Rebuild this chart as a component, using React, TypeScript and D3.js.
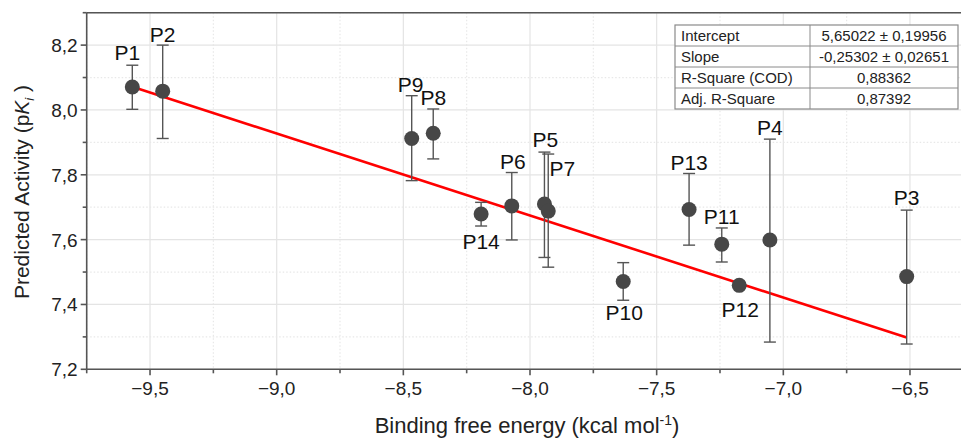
import React, { useEffect, useRef } from "react";
import * as d3 from "d3";

// ---- Data ----
const labels = ["P1", "P2", "P3", "P4", "P5", "P6", "P7", "P8", "P9", "P10", "P11", "P12", "P13", "P14"];
const bindingEnergy = [-9.57, -9.45, -6.513, -7.053, -7.943, -8.072, -7.928, -8.382, -8.467, -7.632, -7.243, -7.174, -7.372, -8.193];
const predicted = [8.071, 8.058, 7.486, 7.599, 7.71, 7.704, 7.688, 7.928, 7.912, 7.471, 7.586, 7.459, 7.693, 7.679];
const errLow = [8.002, 7.912, 7.278, 7.284, 7.545, 7.599, 7.515, 7.849, 7.782, 7.413, 7.531, 7.452, 7.583, 7.642];
const errHigh = [8.138, 8.2, 7.691, 7.91, 7.87, 7.807, 7.864, 8.003, 8.044, 7.529, 7.636, 7.466, 7.804, 7.715];

const fitIntercept = 5.65022;
const fitSlope = -0.25302;

const tableRows = ["Intercept", "Slope", "R-Square (COD)", "Adj. R-Square"];
const tableValues = ["5,65022 ± 0,19956", "-0,25302 ± 0,02651", "0,88362", "0,87392"];

const xTicks = [-9.5, -9.0, -8.5, -8.0, -7.5, -7.0, -6.5];
const yTicks = [7.2, 7.4, 7.6, 7.8, 8.0, 8.2];

// label placement (pixel offsets from point centre)
const labelOffset: Record<string, [number, number]> = {
  P1: [-5, -34], P2: [0, -57], P3: [0, -79], P4: [0, -112], P5: [1, -64], P6: [1, -44],
  P7: [14, -43], P8: [0, -36], P9: [-1, -54], P10: [1, 31], P11: [0, -28], P12: [1, 24],
  P13: [0, -47], P14: [0, 27],
};

const W = 961, H = 439;
const FONT = "'Liberation Sans', Arial, Helvetica, sans-serif";

export default function App() {
  const ref = useRef<SVGSVGElement>(null);
  useEffect(() => {
    const svg = d3.select(ref.current);
    svg.selectAll("*").remove();
    const left = 86.7, right = 973.3, top = 12.7, bottom = 369.3;
    const x = d3.scaleLinear().domain([-9.75, -6.25]).range([left, right]);
    const y = d3.scaleLinear().domain([7.2, 8.3]).range([bottom, top]);

    svg.append("rect").attr("width", W).attr("height", H).attr("fill", "#fff");

    // grid
    const xMinor = d3.range(-9.75, -6.2, 0.25).filter((v) => Math.abs((v * 2) % 1) > 0.01);
    const yMinor = d3.range(7.3, 8.3, 0.2);
    const g = svg.append("g");
    g.selectAll(".xmaj").data(xTicks).join("line")
      .attr("x1", (d) => x(d)).attr("x2", (d) => x(d)).attr("y1", top).attr("y2", bottom)
      .attr("stroke", "#e4e4e4").attr("stroke-width", 1.2);
    g.selectAll(".xmin").data(xMinor).join("line")
      .attr("x1", (d) => x(d)).attr("x2", (d) => x(d)).attr("y1", top).attr("y2", bottom)
      .attr("stroke", "#e8e8e8").attr("stroke-width", 1.2).attr("stroke-dasharray", "1.5,2");
    g.selectAll(".ymaj").data(yTicks.concat([8.3])).join("line")
      .attr("x1", left).attr("x2", W).attr("y1", (d) => y(d)).attr("y2", (d) => y(d))
      .attr("stroke", "#e4e4e4").attr("stroke-width", 1.2);
    g.selectAll(".ymin").data(yMinor).join("line")
      .attr("x1", left).attr("x2", W).attr("y1", (d) => y(d)).attr("y2", (d) => y(d))
      .attr("stroke", "#e8e8e8").attr("stroke-width", 1.2).attr("stroke-dasharray", "1.5,2");

    // axes
    const ax = svg.append("g").attr("stroke", "#555").attr("stroke-width", 1.6);
    ax.append("line").attr("x1", left).attr("x2", W).attr("y1", bottom).attr("y2", bottom);
    ax.append("line").attr("x1", left).attr("x2", W).attr("y1", top).attr("y2", top);
    ax.append("line").attr("x1", left).attr("x2", left).attr("y1", top).attr("y2", bottom);
    ax.selectAll(".xt").data(xTicks).join("line")
      .attr("x1", (d) => x(d)).attr("x2", (d) => x(d)).attr("y1", bottom).attr("y2", bottom + 6);
    ax.selectAll(".xtm").data(xMinor).join("line")
      .attr("x1", (d) => x(d)).attr("x2", (d) => x(d)).attr("y1", bottom).attr("y2", bottom + 4);
    ax.selectAll(".yt").data(yTicks).join("line")
      .attr("x1", left - 6).attr("x2", left).attr("y1", (d) => y(d)).attr("y2", (d) => y(d));
    ax.selectAll(".ytm").data(yMinor).join("line")
      .attr("x1", left - 4).attr("x2", left).attr("y1", (d) => y(d)).attr("y2", (d) => y(d));

    const fmt = (v: number) => v.toFixed(1).replace(".", ",").replace("-", "\u2212");
    svg.selectAll(".xl").data(xTicks).join("text")
      .attr("x", (d) => x(d)).attr("y", 395).attr("text-anchor", "middle")
      .attr("font-family", FONT).attr("font-size", 19).attr("fill", "#222").text(fmt);
    svg.selectAll(".yl").data(yTicks).join("text")
      .attr("x", left - 9).attr("y", (d) => y(d) + 7).attr("text-anchor", "end")
      .attr("font-family", FONT).attr("font-size", 19).attr("fill", "#222").text(fmt);

    // axis titles
    const xt = svg.append("text").attr("x", 527).attr("y", 433).attr("text-anchor", "middle")
      .attr("font-family", FONT).attr("font-size", 22).attr("fill", "#222");
    xt.append("tspan").text("Binding free energy (kcal mol");
    xt.append("tspan").attr("font-size", 14).attr("dy", -8).text("-1");
    xt.append("tspan").attr("dy", 8).text(")");

    const yt = svg.append("text").attr("transform", "translate(29,192) rotate(-90)")
      .attr("text-anchor", "middle").attr("font-family", FONT).attr("font-size", 21).attr("fill", "#222");
    yt.append("tspan").text("Predicted Activity (p");
    yt.append("tspan").attr("font-style", "italic").text("K");
    yt.append("tspan").attr("font-size", 13).attr("font-style", "italic").attr("dy", 5).text("i");
    yt.append("tspan").attr("dy", -5).text(" )");

    // fit line
    const x0 = d3.min(bindingEnergy)!, x1 = d3.max(bindingEnergy)!;
    svg.append("line")
      .attr("x1", x(x0)).attr("y1", y(fitIntercept + fitSlope * x0))
      .attr("x2", x(x1)).attr("y2", y(fitIntercept + fitSlope * x1))
      .attr("stroke", "#ff0000").attr("stroke-width", 2.6);

    // error bars + points
    const idx = d3.range(labels.length);
    const eb = svg.append("g").attr("stroke", "#555").attr("stroke-width", 1.4);
    idx.forEach((i) => {
      const cx = x(bindingEnergy[i]);
      eb.append("line").attr("x1", cx).attr("x2", cx).attr("y1", y(errLow[i])).attr("y2", y(errHigh[i]));
      eb.append("line").attr("x1", cx - 6).attr("x2", cx + 6).attr("y1", y(errLow[i])).attr("y2", y(errLow[i]));
      eb.append("line").attr("x1", cx - 6).attr("x2", cx + 6).attr("y1", y(errHigh[i])).attr("y2", y(errHigh[i]));
    });
    svg.selectAll(".pt").data(idx).join("circle")
      .attr("cx", (i) => x(bindingEnergy[i])).attr("cy", (i) => y(predicted[i])).attr("r", 7.5)
      .attr("fill", "#474747");

    svg.selectAll(".lab").data(idx).join("text")
      .attr("x", (i) => x(bindingEnergy[i]) + labelOffset[labels[i]][0])
      .attr("y", (i) => y(predicted[i]) + labelOffset[labels[i]][1] + 7.5)
      .attr("text-anchor", "middle").attr("font-family", FONT).attr("font-size", 21).attr("fill", "#111")
      .text((i) => labels[i]);

    // stats table
    const tx = 675, ty = 25, rh = 21, split = 810, tw = 958 - tx;
    const tb = svg.append("g");
    tb.append("rect").attr("x", tx).attr("y", ty).attr("width", tw).attr("height", rh * tableRows.length)
      .attr("fill", "#fff").attr("stroke", "#8a8a8a").attr("stroke-width", 1.2);
    tableRows.forEach((r, i) => {
      if (i > 0) tb.append("line").attr("x1", tx).attr("x2", tx + tw).attr("y1", ty + rh * i).attr("y2", ty + rh * i)
        .attr("stroke", "#8a8a8a").attr("stroke-width", 1);
      tb.append("text").attr("x", tx + 6).attr("y", ty + rh * i + 16).attr("font-family", FONT)
        .attr("font-size", 15).attr("fill", "#222").text(r);
      tb.append("text").attr("x", (split + tx + tw) / 2).attr("y", ty + rh * i + 16).attr("text-anchor", "middle")
        .attr("font-family", FONT).attr("font-size", 15).attr("fill", "#222").text(tableValues[i]);
    });
    tb.append("line").attr("x1", split).attr("x2", split).attr("y1", ty).attr("y2", ty + rh * tableRows.length)
      .attr("stroke", "#8a8a8a").attr("stroke-width", 1);
  }, []);
  return (
    <svg ref={ref} width={W} height={H} style={{ position: "absolute", left: 0, top: 0, display: "block" }} />
  );
}
